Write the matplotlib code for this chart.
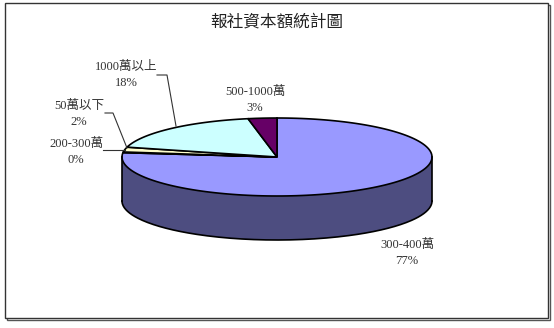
import numpy as np
import matplotlib.pyplot as plt
from matplotlib.patches import Polygon, Rectangle

# slices in drawing order (clockwise from 12 o'clock)
categories = ['300-400萬', '200-300萬', '50萬以下', '1000萬以上', '500-1000萬']
values = [77, 0.3, 2, 18, 3]
top_colors = ['#9999FF', '#FFFFCC', '#FFFFCC', '#CCFFFF', '#660066']
side_colors = ['#4D4D80', '#808066', '#808066', '#668080', '#330033']

title = '報社資本額統計圖'

# label centres and leader lines (pixel coords)
label_pos = [(407, 253), (76, 152), (79, 114), (126, 75), (255, 100)]
leaders = {
    1: [(103, 150), (125, 150)],
    2: [(105, 113), (113, 113), (127, 148)],
    3: [(157, 75), (167, 75), (176, 126)],
}

cx, cy, rx, ry, depth = 277, 157, 155, 39, 44

plt.rcParams['font.family'] = ['Liberation Serif', 'Noto Sans CJK TC']

fig = plt.figure(figsize=(5.54, 3.28), dpi=100)
ax = fig.add_axes([0, 0, 1, 1])
ax.set_xlim(0, 554)
ax.set_ylim(328, 0)
ax.axis('off')

# chart frame with small shadow
ax.add_patch(Rectangle((6.5, 4.5), 543, 315, fill=False, edgecolor='#555555', lw=1.0))
ax.add_patch(Rectangle((5, 3), 543, 315, facecolor='white', edgecolor='#333333', lw=1.0))


def pt(theta, dy=0.0):
    return cx + rx * np.sin(theta), cy - ry * np.cos(theta) + dy


total = sum(values)
bounds = np.concatenate([[0], np.cumsum(values)]) / total * 2 * np.pi

# side walls, only the front half is visible
for i in range(len(values)):
    a0 = max(bounds[i], np.pi / 2)
    a1 = min(bounds[i + 1], 3 * np.pi / 2)
    if a1 <= a0:
        continue
    t = np.linspace(a0, a1, 80)
    xs, ys = pt(t)
    top = np.column_stack([xs, ys])
    bot = np.column_stack([xs, ys + depth])[::-1]
    ax.add_patch(Polygon(np.vstack([top, bot]), closed=True,
                         facecolor=side_colors[i], edgecolor='none'))

# outline of side
t = np.linspace(np.pi / 2, 3 * np.pi / 2, 200)
xs, ys = pt(t)
ax.plot(xs, ys + depth, color='black', lw=1.2)
ax.plot([cx + rx, cx + rx], [cy, cy + depth], color='black', lw=1.2)
ax.plot([cx - rx, cx - rx], [cy, cy + depth], color='black', lw=1.2)

# top faces
for i in range(len(values)):
    t = np.linspace(bounds[i], bounds[i + 1], max(3, int(200 * values[i] / total)))
    xs, ys = pt(t)
    verts = np.vstack([[cx, cy], np.column_stack([xs, ys])])
    ax.add_patch(Polygon(verts, closed=True, facecolor=top_colors[i],
                         edgecolor='black', lw=1.2, joinstyle='miter'))

# labels
for i, name in enumerate(categories):
    pct = round(values[i] / total * 100)
    x, y = label_pos[i]
    ax.text(x, y, f'{name}\n{pct}%', ha='center', va='center', fontsize=9,
            color='#333333', linespacing=1.35)

for pts in leaders.values():
    px, py = zip(*pts)
    ax.plot(px, py, color='#333333', lw=0.8)

ax.text(277, 22, title, ha='center', va='center', fontsize=12,
        family=['Noto Sans CJK TC'], color='#222222')

fig.savefig('out.png', dpi=100)
